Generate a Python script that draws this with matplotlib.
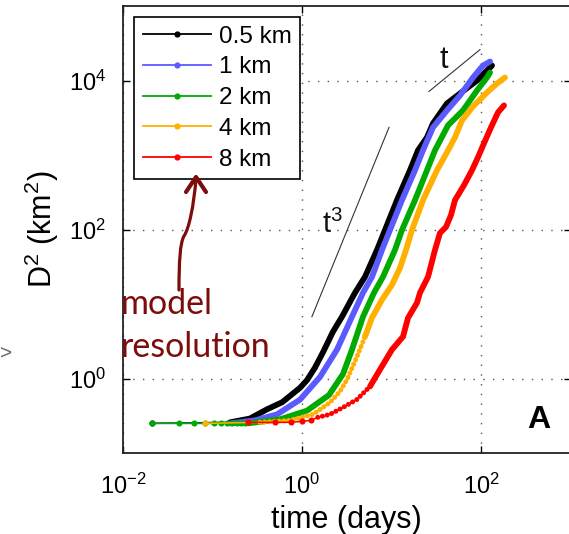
import numpy as np
import matplotlib
matplotlib.use('Agg')
import matplotlib.pyplot as plt
from matplotlib.lines import Line2D
from matplotlib.path import Path
from matplotlib.patches import PathPatch
from matplotlib.ticker import NullLocator
from matplotlib.transforms import IdentityTransform

plt.rcParams['font.family'] = ['Liberation Sans', 'DejaVu Sans']
plt.rcParams['mathtext.fontset'] = 'custom'
plt.rcParams['mathtext.rm'] = 'Liberation Sans'
plt.rcParams['mathtext.it'] = 'Liberation Sans:italic'
plt.rcParams['mathtext.bf'] = 'Liberation Sans:bold'
plt.rcParams['mathtext.default'] = 'regular'

# ---------------- data (time in days, D^2 in km^2) ----------------
labels = ['0.5 km', '1 km', '2 km', '4 km', '8 km']
colors = ['#000000', '#5a5aff', '#00aa00', '#ffb000', '#ff0000']

t_05 = [0.021, 0.157, 0.262, 0.405, 0.600, 0.950, 1.137, 1.397, 1.716, 2.220, 2.798,
        3.910, 5.056, 6.887, 8.461, 11.52, 16.10, 19.78, 24.93, 29.09, 34.83, 41.70,
        58.28, 90.26, 116.7, 132.7]
d_05 = [0.25, 0.258, 0.290, 0.385, 0.480, 0.750, 0.950, 1.400, 2.250, 4.254, 6.752,
        14.15, 23.15, 53.19, 98.47, 248.1, 625.3, 1157, 1728, 2658, 3618, 4924,
        6700, 10000, 13610, 15880]

t_1 = [0.021, 0.157, 0.2985, 0.526, 0.950, 1.589, 2.461, 3.620, 4.804, 6.055, 7.832,
       9.621, 13.10, 18.31, 22.49, 29.09, 41.70, 58.28, 81.43, 105.3, 126.1]
d_1 = [0.25, 0.25, 0.274, 0.330, 0.520, 1.050, 2.443, 6.752, 14.15, 23.15, 53.19,
       98.47, 248.1, 625.3, 1157, 2351, 3970, 6301, 10970, 15880, 17960]

t_2 = [0.021, 0.042, 0.0625, 0.083, 0.104, 0.125, 0.146, 0.167, 0.1875, 0.208, 0.229,
       0.25, 0.568, 1.137, 2.003, 2.872, 3.620, 4.804, 6.375, 8.035, 10.94, 13.10,
       18.31, 24.93, 30.62, 42.79, 62.95, 90.26, 116.7, 126.1]
d_2 = [0.25, 0.25, 0.25, 0.25, 0.25, 0.25, 0.25, 0.25, 0.25, 0.25, 0.25,
       0.25, 0.283, 0.370, 0.600, 1.150, 2.443, 6.752, 14.15, 23.15, 53.19, 98.47,
       248.1, 625.3, 1157, 2500, 3970, 7348, 10970, 12790]

t_4 = [0.083, 0.339, 0.734, 1.327, 2.055, 2.659, 3.184, 4.116, 5.056, 6.055, 7.832,
       10.13, 12.45, 14.52, 16.95, 22.49, 32.24, 41.70, 51.23, 61.35, 81.43, 116.7,
       151.0, 185.4]
d_4 = [0.25, 0.258, 0.274, 0.330, 0.4775, 0.670, 0.970, 1.969, 3.647, 6.548, 11.40,
       18.09, 30.54, 53.19, 98.47, 248.1, 625.3, 1088, 1728, 2917, 4490, 6911,
       9119, 10970]

t_8 = [0.25, 0.5, 0.75, 1.0, 1.25, 1.5, 2.055, 2.872, 4.116, 5.752, 7.439, 10.13,
       13.45, 15.29, 19.28, 20.82, 25.58, 30.62, 34.83, 40.64, 46.23, 51.23, 64.59,
       79.33, 92.56, 108.0, 129.4, 154.9, 180.7]
d_8 = [0.258, 0.258, 0.258, 0.266, 0.274, 0.301, 0.330, 0.409, 0.524, 0.782, 1.319,
       2.443, 3.647, 6.5, 10.39, 14.15, 23.15, 53.19, 89.77, 108.0, 156.3, 248.1,
       393.8, 625.3, 933.0, 1436, 2351, 3731, 4631]

# reference slope lines (end points)
t3_t = [1.29, 9.38]
t3_d = [6.75, 2350]
t1_t = [26.2, 97.5]
t1_d = [7125, 26000]

x_ticks = [1e-2, 1e0, 1e2]
x_ticklabels = ['$10^{-2}$', '$10^{0}$', '$10^{2}$']
y_ticks = [1e0, 1e2, 1e4]
y_ticklabels = ['$10^{0}$', '$10^{2}$', '$10^{4}$']

# ---------------- figure ----------------
W, H = 569, 534
fig = plt.figure(figsize=(W / 100, H / 100), dpi=100)
ax = fig.add_axes([123 / W, (H - 453) / H, 447.5 / W, 447 / H])
ax.set_xscale('log')
ax.set_yscale('log')
ax.set_xlim(1e-2, 1e3)
ax.set_ylim(1e-1, 1e5)

series = [(t_05, d_05), (t_1, d_1), (t_2, d_2), (t_4, d_4), (t_8, d_8)]
# style: where dotted (beaded) and thick parts begin
dot_from = [None, None, None, 0.3, 1.4]
thick_from = [0.15, 0.15, 0.24, 5.0, 5.7]

LW_THICK = 4.2
for i, (t, d) in enumerate(series):
    t = np.asarray(t)
    d = np.asarray(d)
    c = colors[i]
    z = 3 + i
    k_thick = int(np.searchsorted(t, thick_from[i]))
    k_dot = int(np.searchsorted(t, dot_from[i])) if dot_from[i] else k_thick
    ax.plot(t, d, color=c, lw=1.1, zorder=z)
    if k_dot > 0:
        ax.plot(t[:k_dot], d[:k_dot], 'o', color=c, ms=4.4, mew=0, zorder=z)
    if k_thick > k_dot:
        ax.plot(t[k_dot:k_thick + 1], d[k_dot:k_thick + 1], color=c, lw=3.6,
                dashes=(0.01, 0.95), dash_capstyle='round', zorder=z)
    ax.plot(t[k_thick:], d[k_thick:], color=c, lw=LW_THICK,
            solid_capstyle='round', solid_joinstyle='round', zorder=z)

ax.plot(t3_t, t3_d, color='#333333', lw=0.8, zorder=2)
ax.plot(t1_t, t1_d, color='#333333', lw=0.8, zorder=2)
ax.text(2.19, 118, 't$^3$', fontsize=21, ha='center', va='center', color='#111111')
ax.text(38.1, 19100, 't', fontsize=22, ha='center', va='center', color='#111111')
ax.text(0.9296, 0.0738, 'A', transform=ax.transAxes, fontsize=23, fontweight='bold',
        ha='center', va='center')

ax.set_xticks(x_ticks)
ax.set_xticklabels(x_ticklabels)
ax.set_yticks(y_ticks)
ax.set_yticklabels(y_ticklabels)
ax.xaxis.set_minor_locator(NullLocator())
ax.yaxis.set_minor_locator(NullLocator())
ax.tick_params(which='both', direction='in', length=5, width=1, top=True, right=True,
               labelsize=17)
ax.tick_params(axis='x', pad=15)
ax.tick_params(axis='y', pad=12)
ax.grid(True, which='major', color='#555555', lw=1.0, linestyle=(0, (1, 6)))
for s in ax.spines.values():
    s.set_linewidth(1.3)
    s.set_color('#222222')

ax.set_xlabel('time (days)', fontsize=22, labelpad=4)
ax.set_ylabel('D$^2$ (km$^2$)', fontsize=22, labelpad=6)

handles = [Line2D([], [], color=c, lw=1.3, marker='o', ms=4.5, mew=0) for c in colors]
leg = ax.legend(handles, labels, loc='upper left', bbox_to_anchor=(0.0246, 0.9754),
                borderaxespad=0, frameon=True, fancybox=False, edgecolor='black',
                framealpha=1, fontsize=17.5, handlelength=2.8, handletextpad=0.35,
                labelspacing=0.36, borderpad=0.35, numpoints=1)
leg.get_frame().set_linewidth(1.2)
leg.set_zorder(20)

# annotation: "model resolution" with arrow (figure pixel coordinates)
darkred = '#7d0c0c'
def fx(x):
    return x / W
def fy(y):
    return 1 - y / H

fig.text(fx(121), fy(314), 'model', fontfamily='Lato', fontsize=24.5, color=darkred,
         ha='left', va='baseline')
fig.text(fx(121), fy(357), 'resolution', fontfamily='Lato', fontsize=24.5, color=darkred,
         ha='left', va='baseline')

verts = [(179, 290), (179, 262), (180, 243), (184, 236),
         (189, 229), (194, 205), (196, 178)]
codes = [Path.MOVETO, Path.CURVE4, Path.CURVE4, Path.CURVE4,
         Path.CURVE4, Path.CURVE4, Path.CURVE4]
vd = [(x, H - y) for x, y in verts]
fig.add_artist(PathPatch(Path(vd, codes), facecolor='none', edgecolor=darkred, lw=2.3,
                         capstyle='round', transform=IdentityTransform()))
head = [(186, 192), (196, 177), (206, 192)]
hd = [(x, H - y) for x, y in head]
fig.add_artist(PathPatch(Path(hd, [Path.MOVETO, Path.LINETO, Path.LINETO]),
                         facecolor='none', edgecolor=darkred, lw=3.0, capstyle='round',
                         joinstyle='round', transform=IdentityTransform()))

fig.text(0.0, fy(354), '>', fontsize=15, color='#666666', ha='left', va='center')

fig.savefig('out.png', dpi=100)
